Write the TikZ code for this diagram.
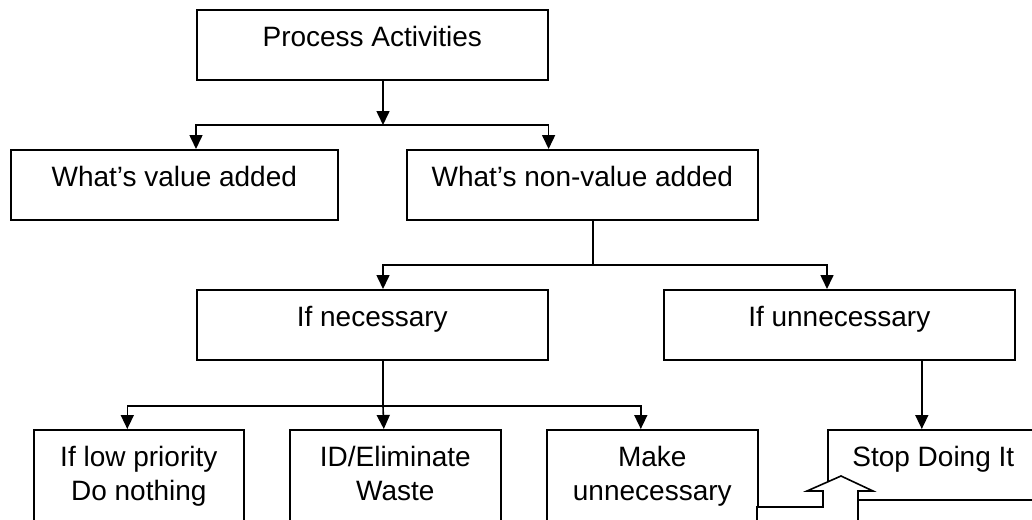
\documentclass[tikz,border=0pt]{standalone}
\usepackage{fontspec}
\setmainfont{Liberation Sans}
\usetikzlibrary{arrows.meta}

\begin{document}
\begin{tikzpicture}
            [x=1pt, y=-1pt,
            box/.style={draw, line width=1.6pt, inner sep=0pt, anchor=north west, align=flush center,
                text height=37pt, text depth=33pt, font=\fontsize{28}{34}\selectfont},
            tall/.style={text depth=75pt},
            line/.style={line width=1.6pt},
            link/.style={line width=1.6pt, -{Triangle[length=14pt, width=13pt]}}]

            \useasboundingbox (0,0) rectangle (1032,519);
            \clip (0,0) rectangle (1032,519);

            \node[box, text width=351pt] (proc) at (196,9) {Process Activities};
            \node[box, text width=327pt] (value) at (10,149) {What’s value added};
            \node[box, text width=351pt] (nonval) at (406,149) {What’s non-value added};
            \node[box, text width=351pt] (ifnec) at (196,289) {If necessary};
            \node[box, text width=351pt] (ifunn) at (663,289) {If unnecessary};
            \node[box, tall, text width=210pt] (lowp) at (33,429) {If low priority\\Do nothing};
            \node[box, tall, text width=211pt] (idel) at (289,429) {ID/Eliminate\\Waste};
            \node[box, tall, text width=211pt] (mkun) at (546,429) {Make\\unnecessary};
            \node[box, text width=211pt] (stop) at (827,429) {Stop Doing It};

            \coordinate (r1) at (383,125);
            \coordinate (r2) at (593,265);
            \coordinate (r3) at (383,406);

            \draw[link] (proc.south -| r1) -- (r1);
            \draw[link] (r1) -| (value.north -| proc.west);
            \draw[link] (r1) -| (nonval.north -| proc.east);
            \draw[line] (nonval.south -| r2) -- (r2);
            \draw[link] (r2) -| (ifnec.north -| r1);
            \draw[link] (r2) -| (ifunn.north -| stop.west);
            \draw[line] (ifnec.south -| r3) -- (r3);
            \draw[link] (r3) -| ([xshift=-11.5pt]lowp.north);
            \draw[link] (r3) -- ([xshift=-11.5pt]idel.north);
            \draw[link] (r3) -| ([xshift=-11.5pt]mkun.north);
            \draw[link] ([xshift=-11.5pt]stop.north |- ifunn.south) -- ([xshift=-11.5pt]stop.north);

            \draw[line, fill=white] (757,507) -- (823,507) -- (823,491) -- (807,491) -- (841,476)
                -- (873,491) -- (858,491) -- (858,542) -- (757,542) -- cycle;
\end{tikzpicture}
\end{document}
